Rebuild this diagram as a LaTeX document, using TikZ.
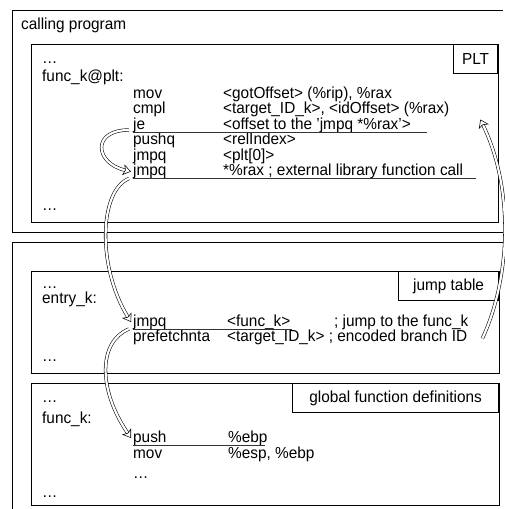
\documentclass[tikz,border=0pt]{standalone}
\usepackage{fontspec}
\setmainfont[FakeStretch=0.96]{Liberation Sans}
\usetikzlibrary{arrows.meta,calc}
\begin{document}
\begin{tikzpicture}[x=1pt,y=-1pt,
  font=\fontsize{16}{18}\selectfont,
  txt/.style={anchor=base west, inner sep=0pt},
  frame/.style={line width=0.8pt},
  lab/.style={draw, line width=0.8pt, anchor=north east, minimum height=29pt, inner sep=0pt},
  uline/.style={line width=0.8pt, black!80},
  harrow/.style={double=white, double distance=2.2pt, line width=0.55pt,
    -{Stealth[open,length=8pt,width=11pt,inset=2pt]}}
]
\useasboundingbox (0,0) rectangle (505,509);
% outer frames
\draw[frame] (503,10) -- (12,10) -- (12,232) -- (503,232);
\draw[frame] (505,242) -- (12,242) -- (12,509);
\node[txt] (cp) at (21,29) {calling program};
% PLT box
\draw[frame] (31,44) rectangle (498,222);
\node[lab, minimum width=44pt] (plt) at (498,44) {PLT};
\node[txt] (d1) at (42,63) {…};
\node[txt] (fplt) at (42,81) {func\_k@plt:};
\node[txt] (mov) at (133,98) {mov};
\node[txt] at (223,98) {<gotOffset> (\%rip), \%rax};
\node[txt] (cmpl) at (133,113.5) {cmpl};
\node[txt] at (223,113.5) {<target\_ID\_k>, <idOffset> (\%rax)};
\node[txt] (je) at (133,129) {je};
\node[txt] at (223,129) {<offset to the 'jmpq *\%rax'>};
\node[txt] (pushq) at (133,144.5) {pushq};
\node[txt] at (223,144.5) {<relIndex>};
\node[txt] (jmpqa) at (133,160) {jmpq};
\node[txt] at (223,160) {<plt[0]>};
\node[txt] (jmpqb) at (133,175.5) {jmpq};
\node[txt] at (223,175.5) {*\%rax ; external library function call};
\node[txt] (d2) at (42,210) {…};
\draw[uline] (je.base west) ++(0,3) -- ++(294,0);
\draw[uline] (jmpqb.base west) ++(0,3) -- ++(343,0);
% jump table box
\draw[frame] (31,271) rectangle (499,373);
\node[lab, minimum width=100pt] (jtl) at (499,271) {jump table};
\node[txt] (d3) at (42,288) {…};
\node[txt] (entry) at (42,303) {entry\_k:};
\node[txt] (jtj) at (133,326) {jmpq};
\node[txt] at (227,326) {<func\_k>};
\node[txt] at (334,326) {; jump to the func\_k};
\node[txt] (pref) at (133,341.5) {prefetchnta};
\node[txt] (prefop) at (227,341.5) {<target\_ID\_k> ; encoded branch ID};
\node[txt] (d4) at (42,361) {…};
\draw[uline] (jtj.base west) ++(0,3) -- ++(159,0);
% global function definitions box
\draw[frame] (31,383) rectangle (499,505);
\node[lab, minimum width=206pt] (gfl) at (499,383) {global function definitions};
\node[txt] (d5) at (42,402) {…};
\node[txt] (fk) at (42,423) {func\_k:};
\node[txt] (push) at (133,442) {push};
\node[txt] at (228,442) {\%ebp};
\node[txt] (mov2) at (133,458) {mov};
\node[txt] at (228,458) {\%esp, \%ebp};
\node[txt] (d6) at (133,478) {…};
\node[txt] (d7) at (42,497) {…};
\draw[uline] (push.base west) ++(0,3) -- ++(132,0);
% arrows
\draw[harrow] ([xshift=-4pt,yshift=-1pt]je.base west) .. controls +(-38,0) and +(-36,-8) .. ([xshift=-2pt,yshift=4pt]jmpqb.base west);
\draw[harrow] ([xshift=-4pt,yshift=-3pt]jmpqb.base west) .. controls +(-30,12) and +(-34,-55) .. ([xshift=-2pt,yshift=4pt]jtj.base west);
\draw[harrow] ([xshift=-4pt,yshift=-3pt]jtj.base west) .. controls +(-30,12) and +(-34,-50) .. ([xshift=-2pt,yshift=4pt]push.base west);
\draw[harrow] ([xshift=15pt,yshift=3pt]prefop.base east) .. controls +(28,-60) and +(34,70) .. ([xshift=13pt,yshift=-6pt]cmpl.base -| prefop.base east);
\end{tikzpicture}
\end{document}
